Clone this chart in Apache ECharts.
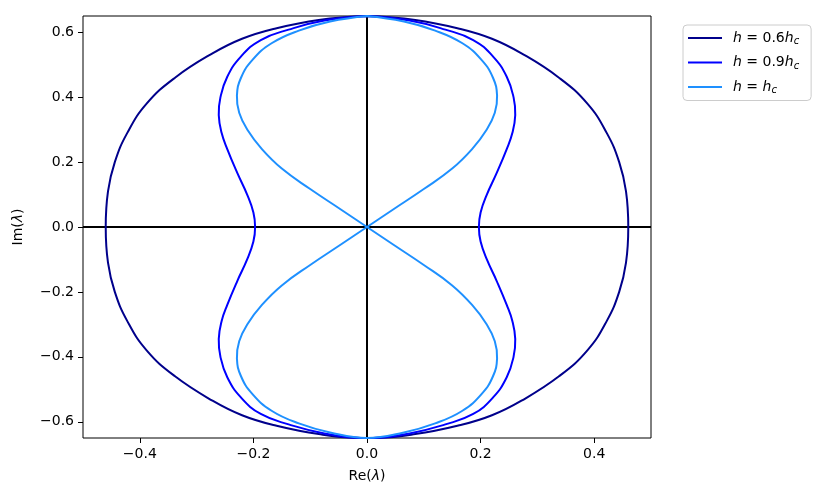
<!DOCTYPE html>
<html>
<head>
<meta charset="utf-8">
<script src="https://cdn.jsdelivr.net/npm/echarts@6/dist/echarts.min.js"></script>
<style>
html,body{margin:0;padding:0;background:#fff;}
#chart{width:823px;height:499px;}
</style>
</head>
<body>
<div id="chart"></div>
<script>
// Data: [Re(lambda), Im(lambda)]
const curveH06 = [
  [0,0.650],[0.085,0.638],[0.165,0.610],[0.220,0.580],[0.272,0.535],[0.338,0.460],[0.388,0.380],[0.422,0.290],[0.444,0.200],[0.456,0.110],[0.460,0],
  [0.456,-0.110],[0.444,-0.200],[0.422,-0.290],[0.388,-0.380],[0.338,-0.460],[0.272,-0.535],[0.220,-0.580],[0.165,-0.610],[0.085,-0.638],[0,-0.650],
  [-0.085,-0.638],[-0.165,-0.610],[-0.220,-0.580],[-0.272,-0.535],[-0.338,-0.460],[-0.388,-0.380],[-0.422,-0.290],[-0.444,-0.200],[-0.456,-0.110],[-0.460,0],
  [-0.456,0.110],[-0.444,0.200],[-0.422,0.290],[-0.388,0.380],[-0.338,0.460],[-0.272,0.535],[-0.220,0.580],[-0.165,0.610],[-0.085,0.638],[0,0.650]
];
const curveH09 = [
  [0,0.650],[0.075,0.636],[0.138,0.608],[0.187,0.576],[0.222,0.525],[0.246,0.463],[0.258,0.400],[0.261,0.345],[0.256,0.290],[0.246,0.240],[0.228,0.165],[0.211,0.100],[0.200,0.045],[0.197,0],
  [0.200,-0.045],[0.211,-0.100],[0.228,-0.165],[0.246,-0.240],[0.256,-0.290],[0.261,-0.345],[0.258,-0.400],[0.246,-0.463],[0.222,-0.525],[0.187,-0.576],[0.138,-0.608],[0.075,-0.636],[0,-0.650],
  [-0.075,-0.636],[-0.138,-0.608],[-0.187,-0.576],[-0.222,-0.525],[-0.246,-0.463],[-0.258,-0.400],[-0.261,-0.345],[-0.256,-0.290],[-0.246,-0.240],[-0.228,-0.165],[-0.211,-0.100],[-0.200,-0.045],[-0.197,0],
  [-0.200,0.045],[-0.211,0.100],[-0.228,0.165],[-0.246,0.240],[-0.256,0.290],[-0.261,0.345],[-0.258,0.400],[-0.246,0.463],[-0.222,0.525],[-0.187,0.576],[-0.138,0.608],[-0.075,0.636],[0,0.650]
];
const curveHc = [
  [0,0.650],[0.065,0.633],[0.120,0.605],[0.168,0.566],[0.202,0.514],[0.222,0.459],[0.229,0.405],[0.225,0.352],[0.210,0.298],[0.185,0.240],[0.150,0.180],[0.100,0.117],[0.046,0.054],[0,0],
  [-0.046,-0.054],[-0.100,-0.117],[-0.150,-0.180],[-0.185,-0.240],[-0.210,-0.298],[-0.225,-0.352],[-0.229,-0.405],[-0.222,-0.459],[-0.202,-0.514],[-0.168,-0.566],[-0.120,-0.605],[-0.065,-0.633],[0,-0.650],
  [0.065,-0.633],[0.120,-0.605],[0.168,-0.566],[0.202,-0.514],[0.222,-0.459],[0.229,-0.405],[0.225,-0.352],[0.210,-0.298],[0.185,-0.240],[0.150,-0.180],[0.100,-0.117],[0.046,-0.054],[0,0],
  [-0.046,0.054],[-0.100,0.117],[-0.150,0.180],[-0.185,0.240],[-0.210,0.298],[-0.225,0.352],[-0.229,0.405],[-0.222,0.459],[-0.202,0.514],[-0.168,0.566],[-0.120,0.605],[-0.065,0.633],[0,0.650]
];
const zeroLineX = [[-0.5,0],[0.5,0]];
const zeroLineY = [[0,-0.65],[0,0.65]];
const xTicks = [-0.4,-0.2,0,0.2,0.4];
const yTicks = [-0.6,-0.4,-0.2,0,0.2,0.4,0.6];
const seriesNames = ['h06','h09','hc'];
const legendLabels = {
  h06: '{i|h} = 0.6{i|h}{s|c}',
  h09: '{i|h} = 0.9{i|h}{s|c}',
  hc:  '{i|h} = {i|h}{s|c}'
};
const colors = ['#00008B','#0000FF','#1E90FF'];

const FONT = 'DejaVu Sans';
const fmt = v => (Math.abs(v) < 1e-9 ? '0.0' : v.toFixed(1).replace('-', '\u2212'));

const chart = echarts.init(document.getElementById('chart'), null, {renderer:'canvas'});

// Smooth curve series: whole curve drawn once, each point mapped through the axes (api.coord)
const curveSeries = (name, data, color, z) => ({
  name, type:'custom', data, z, silent:true, clip:false,
  itemStyle:{color},
  encode:{x:0, y:1},
  renderItem: (params, api) => {
    if (params.dataIndex !== 0) return null;
    const pts = data.map(p => api.coord(p));
    return {
      type:'polyline',
      shape:{points:pts, smooth:0.45},
      style:{stroke:color, fill:null, lineWidth:2, lineJoin:'round', lineCap:'round'}
    };
  }
});

chart.setOption({
  backgroundColor:'#fff',
  animation:false,
  textStyle:{fontFamily:FONT},
  grid:{left:83, top:16, width:568, height:422, show:true, borderColor:'#000', borderWidth:1, backgroundColor:'transparent'},
  xAxis:{
    type:'value', min:-0.5, max:0.5,
    axisLine:{show:false, onZero:false},
    splitLine:{show:false},
    axisTick:{show:true, length:5, customValues:xTicks, lineStyle:{color:'#000', width:1}},
    axisLabel:{customValues:xTicks, formatter:fmt, margin:9, color:'#000', fontSize:14, fontFamily:FONT},
    name:'Re({i|λ})', nameLocation:'middle', nameGap:30,
    nameTextStyle:{color:'#000', fontSize:14, fontFamily:FONT, lineHeight:16,
      rich:{i:{fontStyle:'italic', fontSize:14, fontFamily:FONT, color:'#000'}}}
  },
  yAxis:{
    type:'value', min:-0.65, max:0.65,
    axisLine:{show:false, onZero:false},
    splitLine:{show:false},
    axisTick:{show:true, length:5, customValues:yTicks, lineStyle:{color:'#000', width:1}},
    axisLabel:{customValues:yTicks, formatter:fmt, margin:9, color:'#000', fontSize:14, fontFamily:FONT},
    name:'Im({i|λ})', nameLocation:'middle', nameGap:57,
    nameTextStyle:{color:'#000', fontSize:14, fontFamily:FONT, lineHeight:16,
      rich:{i:{fontStyle:'italic', fontSize:14, fontFamily:FONT, color:'#000'}}}
  },
  legend:{
    orient:'vertical', left:683, top:25,
    data:seriesNames,
    icon:'rect',
    itemWidth:34, itemHeight:2, itemGap:8,
    padding:[5,12,5,5],
    borderColor:'#cccccc', borderWidth:1, borderRadius:4, backgroundColor:'#fff',
    formatter: name => legendLabels[name],
    textStyle:{color:'#000', fontSize:14, fontFamily:FONT, padding:[0,0,0,6], lineHeight:16,
      rich:{
        i:{fontStyle:'italic', fontSize:14, fontFamily:FONT, color:'#000'},
        s:{fontStyle:'italic', fontSize:10, fontFamily:FONT, color:'#000', padding:[7,0,0,0]}
      }}
  },
  series:[
    {type:'line', data:zeroLineX, showSymbol:false, symbol:'none', clip:false, lineStyle:{color:'#000', width:2}, z:1, silent:true},
    {type:'line', data:zeroLineY, showSymbol:false, symbol:'none', clip:false, lineStyle:{color:'#000', width:2}, z:1, silent:true},
    curveSeries('h06', curveH06, colors[0], 2),
    curveSeries('h09', curveH09, colors[1], 3),
    curveSeries('hc', curveHc, colors[2], 4)
  ]
});
</script>
</body>
</html>
